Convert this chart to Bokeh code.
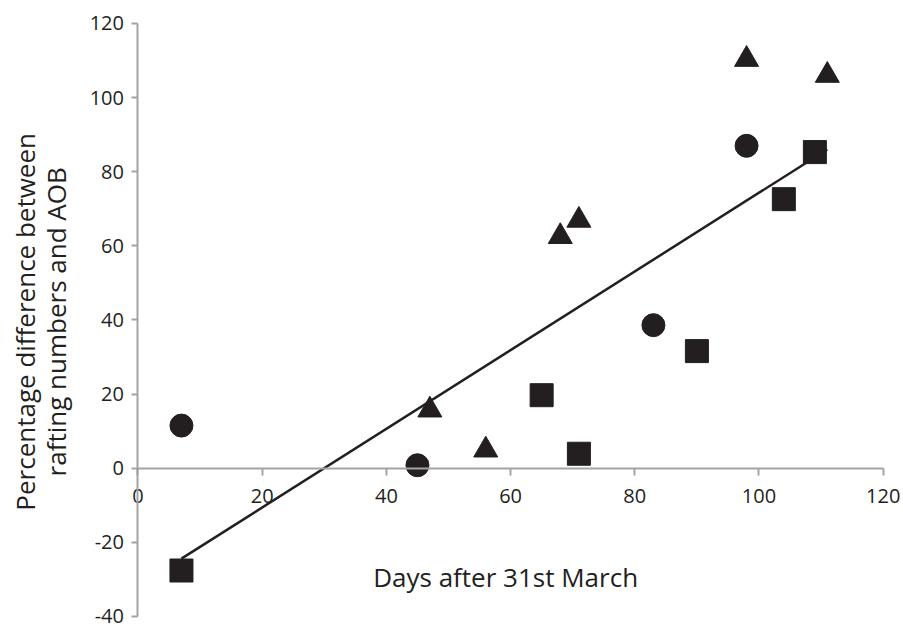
from bokeh.plotting import figure
from bokeh.models import Label, FixedTicker, LinearAxis, Range1d
from bokeh.embed import file_html
from bokeh.resources import INLINE

# Data
circle_x = [7, 45, 83, 98]
circle_y = [11.5, 0.8, 38.6, 87]

triangle_x = [47, 56, 68, 71, 98, 111]
triangle_y = [15.7, 4.9, 62.5, 66.9, 110.3, 106]

square_x = [7, 65, 71, 90, 104, 109]
square_y = [-27.6, 19.7, 3.9, 31.6, 72.6, 85.3]

trend_x = [7, 111]
trend_y = [-24.4, 86]

x_ticks = [0, 20, 40, 60, 80, 100, 120]
y_ticks = [-40, -20, 0, 20, 40, 60, 80, 100, 120]

x_title = "Days after 31st March"
y_title_1 = "Percentage difference between"
y_title_2 = "rafting numbers and AOB"

INK = "#231f20"
AXIS = "#a3a3a6"
FONT = "Open Sans"

W, H = 903, 626
# the frame fills the canvas; axes are drawn at x=0 / y=0 within it
p = figure(width=W, height=H,
           x_range=Range1d(-22.14, 123.27), y_range=Range1d(-42.71, 126.2),
           output_backend="svg", toolbar_location=None,
           x_axis_location=None, y_axis_location=None,
           min_border=0, min_border_left=0, min_border_right=0,
           min_border_top=0, min_border_bottom=0)
p.grid.visible = False
p.outline_line_color = None
p.background_fill_color = "white"
p.border_fill_color = "white"

xaxis = LinearAxis(fixed_location=0, bounds=(0, 120), ticker=FixedTicker(ticks=x_ticks))
yaxis = LinearAxis(fixed_location=0, bounds=(-40, 120), ticker=FixedTicker(ticks=y_ticks))
xaxis.major_label_overrides = {t: str(t) for t in x_ticks}
yaxis.major_label_overrides = {t: str(t) for t in y_ticks}
for ax, tick_out, standoff in ((xaxis, 7, 14), (yaxis, 6, 8)):
    ax.axis_line_color = AXIS
    ax.axis_line_width = 2
    ax.major_tick_line_color = AXIS
    ax.major_tick_line_width = 2
    ax.major_tick_in = 0
    ax.major_tick_out = tick_out
    ax.minor_tick_line_color = None
    ax.major_label_text_font = FONT
    ax.major_label_text_font_size = "20px"
    ax.major_label_text_color = INK
    ax.major_label_standoff = standoff
p.add_layout(xaxis, "below")
p.add_layout(yaxis, "left")

p.line(trend_x, trend_y, line_width=2.5, line_color=INK)
p.scatter(circle_x, circle_y, marker="circle", size=23, color=INK)
p.scatter(triangle_x, triangle_y, marker="triangle", size=24, color=INK)
p.scatter(square_x, square_y, marker="square", size=23, color=INK)

p.add_layout(Label(x=59.2, y=-29.4, text=x_title, text_align="center",
                   text_baseline="alphabetic", text_font=FONT,
                   text_font_size="26px", text_color=INK))
p.add_layout(Label(x=-18.2, y=39.5, text=y_title_1, angle=1.5707963,
                   text_align="center", text_baseline="alphabetic",
                   text_font=FONT, text_font_size="26px", text_color=INK))
p.add_layout(Label(x=-13.2, y=39.5, text=y_title_2, angle=1.5707963,
                   text_align="center", text_baseline="alphabetic",
                   text_font=FONT, text_font_size="26px", text_color=INK))

open("out.html", "w").write(file_html(p, INLINE))
